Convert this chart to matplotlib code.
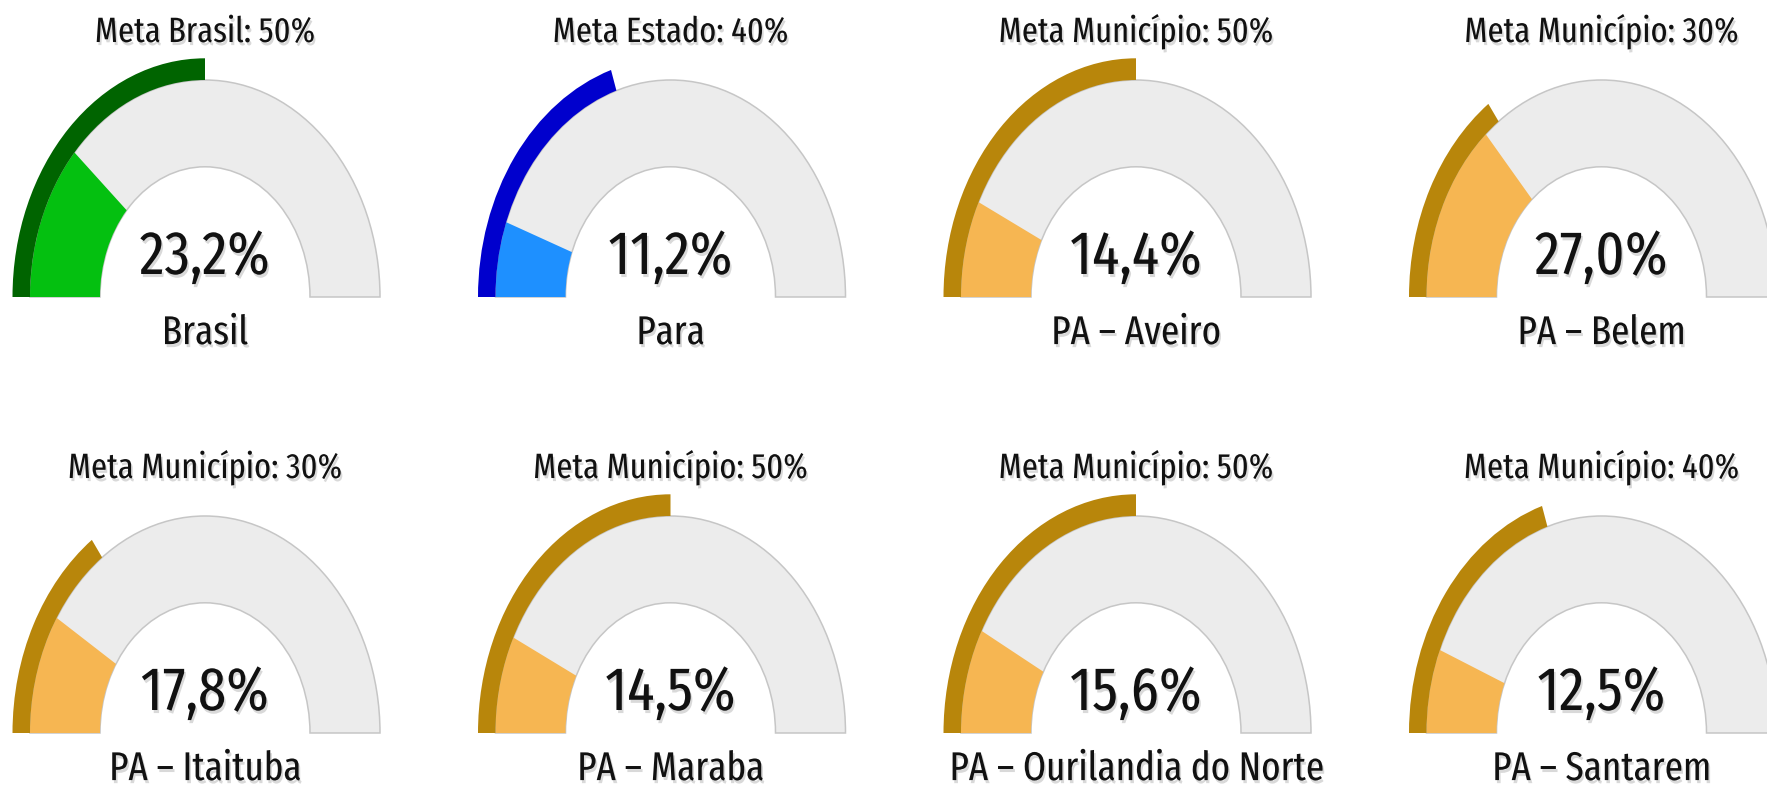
import numpy as np
import matplotlib
matplotlib.use('Agg')
import matplotlib.pyplot as plt
from matplotlib.patches import Wedge
import matplotlib.patheffects as pe
from matplotlib import font_manager as fm
from matplotlib.textpath import TextPath

# ---- data ----
labels = ['Brasil', 'Para', 'PA – Aveiro', 'PA – Belem',
          'PA – Itaituba', 'PA – Maraba', 'PA – Ourilandia do Norte', 'PA – Santarem']
values = [23.2, 11.2, 14.4, 27.0, 17.8, 14.5, 15.6, 12.5]
metas = [50, 40, 50, 30, 30, 50, 50, 40]
meta_titles = ['Meta Brasil', 'Meta Estado'] + ['Meta Município'] * 6
fill_colors = ['#04c010', '#1e90ff'] + ['#f6b652'] * 6
band_colors = ['#006400', '#0000cd'] + ['#b8860b'] * 6
gauge_max = 100

# ---- font ----
ents = fm.fontManager.ttflist
pref = ['Fira Sans Extra Condensed', 'Fira Sans Condensed', 'Roboto Condensed',
        'Open Sans Condensed', 'Liberation Sans Narrow']
font_file = None
for p in pref:
    for e in ents:
        if e.name == p and str(e.weight) in ('400', 'normal', 'regular') \
                and 'Italic' not in e.fname and 'Oblique' not in e.fname:
            font_file = e.fname
            break
    if font_file:
        break


def fp(size):
    if font_file:
        return fm.FontProperties(fname=font_file, size=size)
    return fm.FontProperties(family='DejaVu Sans', size=size)


def fit_size(sample, target_px, base=20.0):
    w = TextPath((0, 0), sample, prop=fp(base)).get_extents().width * 100 / 72
    return base * target_px / w


title_size = fit_size('Meta Município: 30%', 271)
value_size = fit_size('23,2%', 127)
label_size = fit_size('PA – Aveiro', 165)

shadow = [pe.SimplePatchShadow(offset=(1.2, -2.2), shadow_rgbFace='#777777', alpha=0.28), pe.Normal()]

W, H = 1767, 785
fig = plt.figure(figsize=(W / 100, H / 100), dpi=100)
fig.patch.set_facecolor('white')

centers_x = [205, 670.5, 1136, 1601.5]
baselines = [297, 733]
rx, ry = 175, 217
xr, ylo, yhi = 1.33, -0.45, 1.35

for i in range(8):
    cx = centers_x[i % 4]
    by = baselines[i // 4]
    ax = fig.add_axes([(cx - xr * rx) / W, (H - (by - ylo * ry)) / H,
                       2 * xr * rx / W, (yhi - ylo) * ry / H])
    ax.set_xlim(-xr, xr)
    ax.set_ylim(ylo, yhi)
    ax.axis('off')
    ax.add_patch(Wedge((0, 0), 1.0, 0, 180, width=0.4, facecolor='#ececec',
                       edgecolor='#c6c6c6', linewidth=1.1))
    a_val = 180 - values[i] / gauge_max * 180
    ax.add_patch(Wedge((0, 0), 1.0, a_val, 180, width=0.4, facecolor=fill_colors[i],
                       edgecolor='none'))
    a_meta = 180 - metas[i] / gauge_max * 180
    ax.add_patch(Wedge((0, 0), 1.1, a_meta, 180, width=0.1, facecolor=band_colors[i],
                       edgecolor='none'))
    ax.text(0, 1.175, f'{meta_titles[i]}: {metas[i]}%', ha='center', va='baseline',
            fontproperties=fp(title_size), color='#111111', path_effects=shadow)
    ax.text(0, 0.106, f'{values[i]:.1f}%'.replace('.', ','), ha='center', va='baseline',
            fontproperties=fp(value_size), color='#111111', path_effects=shadow)
    ax.text(0, -0.217, labels[i], ha='center', va='baseline',
            fontproperties=fp(label_size), color='#111111', path_effects=shadow)

fig.savefig('out.png', dpi=100, facecolor='white')
